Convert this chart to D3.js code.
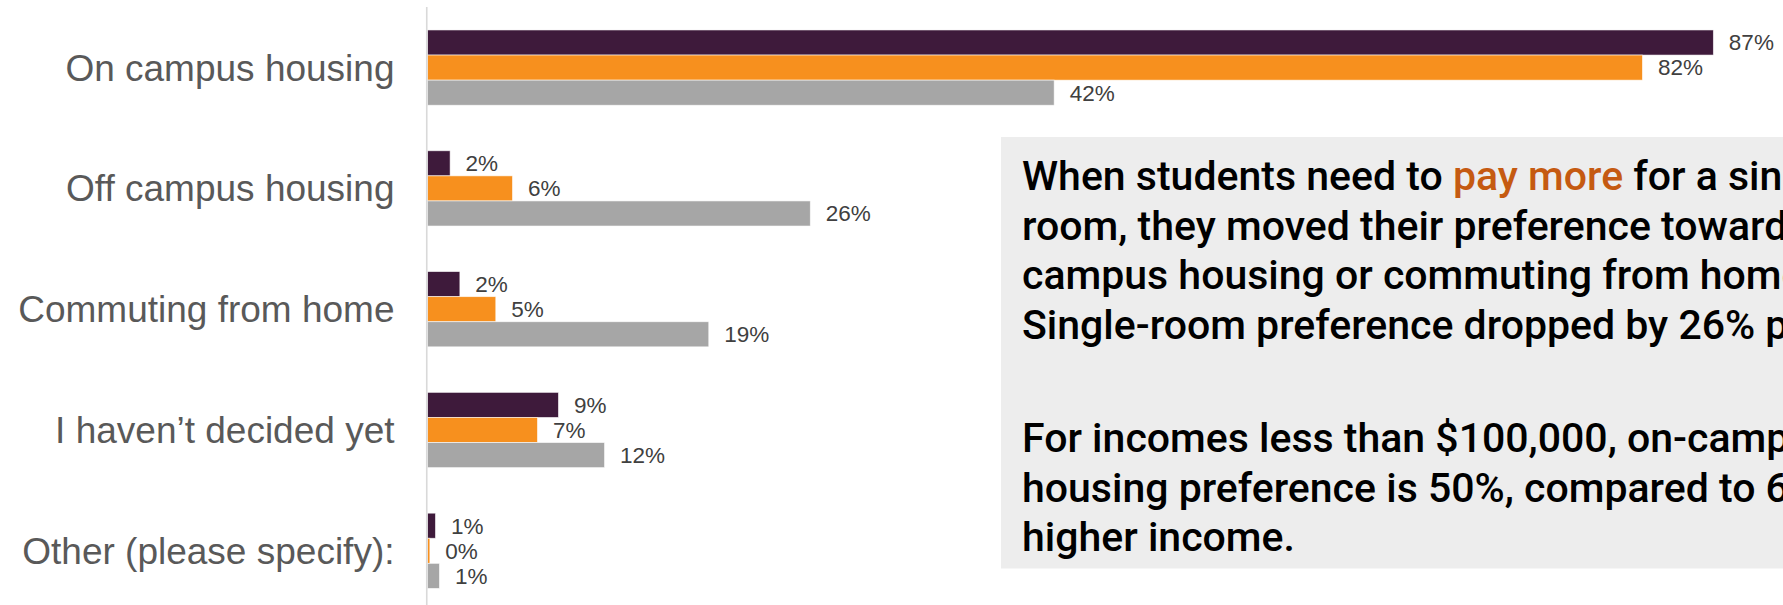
<!DOCTYPE html>
<html>
<head>
<meta charset="utf-8">
<script src="https://cdn.jsdelivr.net/npm/d3@7"></script>
<style>
  html, body { margin: 0; padding: 0; background: #ffffff; }
  svg { display: block; }
</style>
</head>
<body>
<svg id="chart" width="1783" height="605"></svg>
<script>
// ---- data ----
const categories = [
  "On campus housing",
  "Off campus housing",
  "Commuting from home",
  "I haven’t decided yet",
  "Other (please specify):"
];
const seriesNames = ["Series 1", "Series 2", "Series 3"];
const series1Values = [87.0, 1.53, 2.19, 8.86, 0.54];
const series2Values = [82.2, 5.75, 4.62, 7.44, 0.16];
const series3Values = [42.4, 25.9, 19.03, 11.98, 0.81];
const seriesColors = ["#3E1A3B", "#F7901E", "#A6A6A6"];

const noteParagraphs = [
  [
    [{t: "When students need to "}, {t: "pay more", hi: true}, {t: " for a single"}],
    [{t: "room, they moved their preference towards off"}],
    [{t: "campus housing or commuting from home."}],
    [{t: "Single-room preference dropped by 26% points."}]
  ],
  [
    [{t: "For incomes less than $100,000, on-campus"}],
    [{t: "housing preference is 50%, compared to 65% for"}],
    [{t: "higher income."}]
  ]
];

// ---- layout ----
const svg = d3.select("#chart");
const axisX = 427.5;

const allSeries = [series1Values, series2Values, series3Values];

const x = d3.scaleLinear().domain([0, 100]).range([axisX, axisX + 1478]);
const y = d3.scaleBand().domain(categories).range([7.2, 611.2])
  .paddingInner(0.377).paddingOuter(0.1885);
const ySub = d3.scaleBand().domain(d3.range(seriesNames.length))
  .range([0, y.bandwidth()]).padding(0);

// text box
const box = svg.append("g");
box.append("rect")
  .attr("x", 1001).attr("y", 137)
  .attr("width", 820).attr("height", 431.5)
  .attr("fill", "#EDEDED");

const noteText = box.append("text")
  .attr("font-family", "Roboto, 'Liberation Sans', sans-serif")
  .attr("font-weight", 500)
  .attr("font-size", 41)
  .attr("fill", "#000000");
const lineH = 49.7;
const paraStarts = [190, 452];
noteParagraphs.forEach((para, p) => {
  para.forEach((line, i) => {
    line.forEach((seg, j) => {
      const ts = noteText.append("tspan").text(seg.t);
      if (j === 0) ts.attr("x", 1022).attr("y", paraStarts[p] + i * lineH);
      if (seg.hi) ts.attr("fill", "#C55A11");
    });
  });
});

// bars
const groups = svg.append("g").selectAll("g.cat")
  .data(categories)
  .join("g")
  .attr("class", "cat")
  .attr("transform", d => `translate(0,${y(d)})`);

groups.selectAll("rect")
  .data((c, ci) => allSeries.map((vals, si) => ({si, v: vals[ci]})))
  .join("rect")
  .attr("x", x(0))
  .attr("y", d => ySub(d.si))
  .attr("width", d => Math.max(0, x(d.v) - x(0)))
  .attr("height", ySub.bandwidth())
  .attr("fill", d => seriesColors[d.si])
  .attr("stroke", "#ffffff")
  .attr("stroke-opacity", 0.7)
  .attr("stroke-width", 0.8);

groups.selectAll("text.val")
  .data((c, ci) => allSeries.map((vals, si) => ({si, v: vals[ci]})))
  .join("text")
  .attr("class", "val")
  .attr("x", d => x(d.v) + 15.5)
  .attr("y", d => ySub(d.si) + ySub.bandwidth() / 2)
  .attr("dy", "0.35em")
  .attr("font-family", "'Liberation Sans', Arial, sans-serif")
  .attr("font-size", 22.5)
  .attr("fill", "#404040")
  .text(d => Math.round(d.v) + "%");

// category axis
const yAxis = d3.axisLeft(y).tickSize(0).tickPadding(33);
const ag = svg.append("g")
  .attr("transform", `translate(${axisX},0)`)
  .call(yAxis);
ag.select(".domain")
  .attr("d", `M-0.75,7V605`)
  .attr("stroke", "#D9D9D9")
  .attr("stroke-width", 1.6);
ag.selectAll(".tick text")
  .attr("font-family", "'Liberation Sans', Arial, sans-serif")
  .attr("font-size", 37)
  .attr("fill", "#595959")
  .attr("dy", "0.35em");
</script>
</body>
</html>
